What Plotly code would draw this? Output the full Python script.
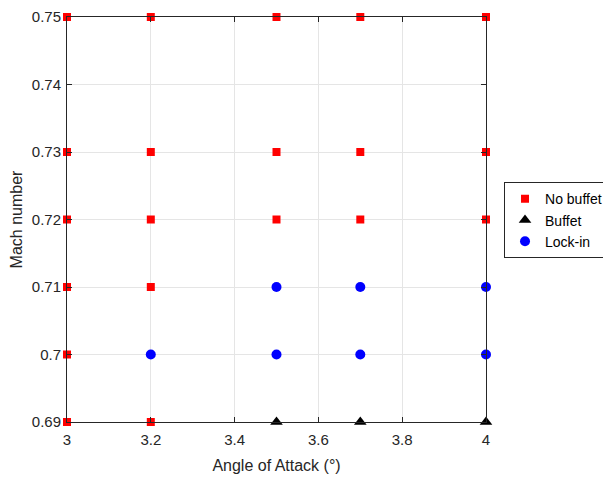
import plotly.graph_objects as go

no_buffet_x = [3, 3, 3, 3, 3, 3, 3.2, 3.2, 3.2, 3.2, 3.2, 3.5, 3.5, 3.5, 3.7, 3.7, 3.7, 4, 4, 4]
no_buffet_y = [0.69, 0.70, 0.71, 0.72, 0.73, 0.75, 0.69, 0.71, 0.72, 0.73, 0.75, 0.72, 0.73, 0.75, 0.72, 0.73, 0.75, 0.72, 0.73, 0.75]
buffet_x = [3.5, 3.7, 4]
buffet_y = [0.69, 0.69, 0.69]
lockin_x = [3.2, 3.5, 3.5, 3.7, 3.7, 4, 4]
lockin_y = [0.70, 0.70, 0.71, 0.70, 0.71, 0.70, 0.71]

x_ticks = [3, 3.2, 3.4, 3.6, 3.8, 4]
x_ticklabels = ["3", "3.2", "3.4", "3.6", "3.8", "4"]
y_ticks = [0.69, 0.70, 0.71, 0.72, 0.73, 0.74, 0.75]
y_ticklabels = ["0.69", "0.7", "0.71", "0.72", "0.73", "0.74", "0.75"]

fig = go.Figure()
fig.add_trace(go.Scatter(x=no_buffet_x, y=no_buffet_y, mode="markers", name="No buffet",
                         marker=dict(symbol="square", size=8, color="#ff0000"), cliponaxis=False))
fig.add_trace(go.Scatter(x=buffet_x, y=buffet_y, mode="markers", name="Buffet",
                         marker=dict(symbol="triangle-up", size=11, color="#000000"), cliponaxis=False))
fig.add_trace(go.Scatter(x=lockin_x, y=lockin_y, mode="markers", name="Lock-in",
                         marker=dict(symbol="circle", size=10, color="#0000ff"), cliponaxis=False))

axis_common = dict(
    showline=True, linecolor="#262626", linewidth=1, mirror="allticks",
    ticks="inside", ticklen=5, tickcolor="#262626",
    showgrid=True, gridcolor="#e5e5e5", gridwidth=1, zeroline=False,
    automargin=False, ticklabeloverflow="allow",
    tickfont=dict(family="Liberation Sans, Arial, sans-serif", size=15, color="#262626"),
)

fig.update_layout(
    width=603, height=469,
    margin=dict(l=59, r=125, t=9, b=55, autoexpand=False),
    plot_bgcolor="white", paper_bgcolor="white",
    font=dict(family="Liberation Sans, Arial, sans-serif", size=15, color="#262626"),
    xaxis=dict(range=[3, 4], tickvals=x_ticks, ticktext=x_ticklabels, ticklabelstandoff=4,
               title=dict(text="Angle of Attack (°)", standoff=12,
                          font=dict(size=16, color="#262626")), **axis_common),
    yaxis=dict(range=[0.69, 0.75], tickvals=y_ticks, ticktext=y_ticklabels, ticklabelstandoff=2,
               title=dict(text="Mach number", standoff=7,
                          font=dict(size=16, color="#262626")), **axis_common),
    legend=dict(x=1.043, y=0.592, xanchor="left", yanchor="top",
                bordercolor="#262626", borderwidth=1, bgcolor="white",
                font=dict(size=14, color="#000000"), itemwidth=30,
                tracegroupgap=0),
    showlegend=True,
)

fig.write_html("out.html")
